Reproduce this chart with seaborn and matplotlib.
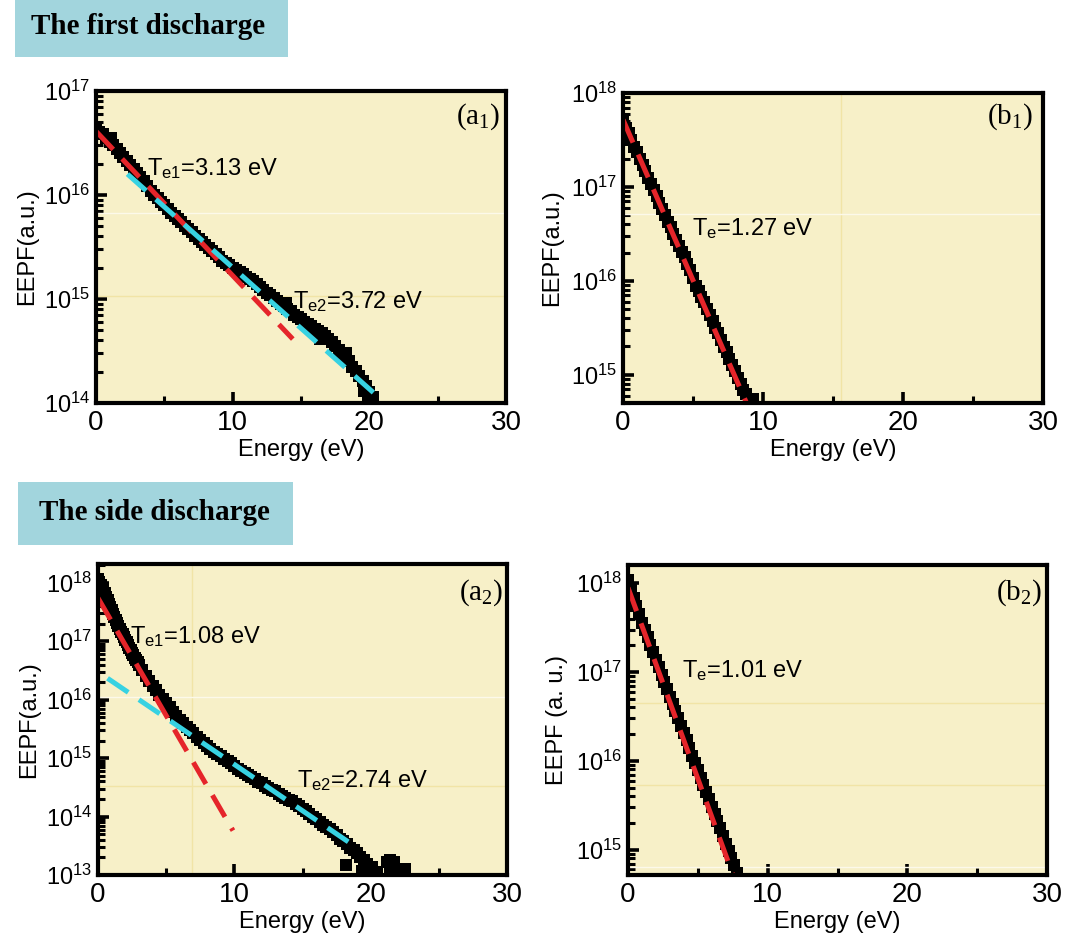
import numpy as np
import pandas as pd
import matplotlib
matplotlib.use("Agg")
import matplotlib.pyplot as plt
import seaborn as sns
from matplotlib.patches import Rectangle
from matplotlib.ticker import LogLocator, NullFormatter, MultipleLocator, LogFormatterMathtext

# ---------------- measured EEPF (log10 of a.u.) ----------------
# (a1) first discharge, position a
a1_energy = [0.0, 0.25, 0.5, 0.75, 1.0, 1.25, 1.5, 1.75, 2.0, 2.25,
             2.5, 2.75, 3.0, 3.25, 3.5, 3.75, 4.0, 4.25, 4.5, 4.75,
             5.0, 5.25, 5.5, 5.75, 6.0, 6.25, 6.5, 6.75, 7.0, 7.25,
             7.5, 7.75, 8.0, 8.25, 8.5, 8.75, 9.0, 9.25, 9.5, 9.75,
             10.0, 10.25, 10.5, 10.75, 11.0, 11.25, 11.5, 11.75, 12.0, 12.25,
             12.5, 12.75, 13.0, 13.25, 13.5, 13.75, 14.0, 14.25, 14.5, 14.75,
             15.0, 15.25, 15.5, 15.75, 16.0, 16.25, 16.5, 16.75, 17.0, 17.25,
             17.5, 17.75, 18.0, 18.25, 18.5, 18.75, 19.0, 19.25, 19.5, 19.75,
             20.0, 20.25,
             1.1, 13.9, 16.4, 18.3, 19.6, 19.9, 20.1]
a1_log_eepf = [16.63, 16.61, 16.59, 16.55, 16.51, 16.48, 16.44, 16.40, 16.37, 16.33,
               16.29, 16.25, 16.21, 16.17, 16.13, 16.09, 16.04, 16.00, 15.97, 15.93,
               15.90, 15.87, 15.83, 15.80, 15.77, 15.74, 15.70, 15.67, 15.64, 15.61,
               15.58, 15.55, 15.52, 15.49, 15.46, 15.43, 15.40, 15.37, 15.35, 15.33,
               15.30, 15.28, 15.26, 15.24, 15.21, 15.19, 15.17, 15.14, 15.12, 15.09,
               15.06, 15.04, 15.01, 14.98, 14.95, 14.93, 14.90, 14.88, 14.85, 14.83,
               14.81, 14.78, 14.76, 14.74, 14.71, 14.69, 14.67, 14.64, 14.62, 14.59,
               14.55, 14.51, 14.48, 14.44, 14.40, 14.35, 14.31, 14.26, 14.21, 14.16,
               14.11, 14.06,
               16.55, 14.96, 14.62, 14.48, 14.12, 14.02, 14.00]

# (b1) first discharge, position b
b1_energy = [0.0, 0.2, 0.4, 0.6, 0.8, 1.0, 1.2, 1.4, 1.6, 1.8,
             2.0, 2.2, 2.4, 2.6, 2.8, 3.0, 3.2, 3.4, 3.6, 3.8,
             4.0, 4.2, 4.4, 4.6, 4.8, 5.0, 5.2, 5.4, 5.6, 5.8,
             6.0, 6.2, 6.4, 6.6, 6.8, 7.0, 7.2, 7.4, 7.6, 7.8,
             8.0, 8.2, 8.4, 8.6, 8.8, 9.0, 9.2, 9.3]
b1_log_eepf = [17.72, 17.63, 17.57, 17.50, 17.43, 17.37, 17.30, 17.23, 17.17, 17.10,
               17.03, 16.97, 16.90, 16.83, 16.77, 16.70, 16.63, 16.57, 16.50, 16.43,
               16.37, 16.31, 16.25, 16.18, 16.12, 16.03, 15.95, 15.89, 15.83, 15.77,
               15.70, 15.64, 15.57, 15.50, 15.44, 15.37, 15.30, 15.24, 15.17, 15.10,
               15.04, 14.97, 14.90, 14.84, 14.79, 14.72, 14.66, 14.74]

# (a2) side discharge, position a
a2_energy = [0.0, 0.1, 0.2, 0.3, 0.4, 0.5, 0.6, 0.7, 0.8, 0.9,
             1.0, 1.1, 1.2, 1.3, 1.4, 1.5, 1.6, 1.7, 1.8, 1.9,
             2.0, 2.1, 2.2, 2.3, 2.4, 2.5, 2.6, 2.7, 2.8, 2.9,
             3.0,
             3.25, 3.5, 3.75, 4.0, 4.25, 4.5, 4.75, 5.0, 5.25, 5.5,
             5.75, 6.0, 6.25, 6.5, 6.75, 7.0, 7.25, 7.5, 7.75, 8.0,
             8.25, 8.5, 8.75, 9.0, 9.25, 9.5, 9.75, 10.0, 10.25, 10.5,
             10.75, 11.0, 11.25, 11.5, 11.75, 12.0, 12.25, 12.5, 12.75, 13.0,
             13.25, 13.5, 13.75, 14.0, 14.25, 14.5, 14.75, 15.0, 15.25, 15.5,
             15.75, 16.0, 16.25, 16.5, 16.75, 17.0, 17.25, 17.5, 17.75, 18.0,
             18.25, 18.5, 18.75, 19.0, 19.25, 19.5, 19.75,
             18.2, 19.4, 19.6, 20.1, 20.5, 21.2, 21.4, 21.7, 21.4, 22.0, 22.5]
a2_log_eepf = [18.06, 18.01, 17.97, 17.92, 17.87, 17.82, 17.76, 17.70, 17.64, 17.59,
               17.53, 17.47, 17.42, 17.36, 17.31, 17.26, 17.21, 17.16, 17.12, 17.07,
               17.03, 16.98, 16.94, 16.89, 16.85, 16.80, 16.76, 16.72, 16.68, 16.64,
               16.60,
               16.50, 16.40, 16.32, 16.24, 16.16, 16.08, 16.01, 15.94, 15.87, 15.79,
               15.72, 15.65, 15.60, 15.54, 15.48, 15.43, 15.37, 15.31, 15.26, 15.21,
               15.16, 15.11, 15.07, 15.03, 14.99, 14.95, 14.92, 14.86, 14.81, 14.78,
               14.74, 14.71, 14.67, 14.64, 14.60, 14.57, 14.53, 14.49, 14.46, 14.43,
               14.39, 14.36, 14.32, 14.29, 14.26, 14.22, 14.18, 14.13, 14.09, 14.04,
               14.00, 13.95, 13.91, 13.86, 13.82, 13.78, 13.73, 13.68, 13.62, 13.58,
               13.53, 13.47, 13.42, 13.37, 13.31, 13.25, 13.19,
               13.17, 13.06, 13.17, 13.14, 13.05, 13.23, 13.25, 13.23, 13.10, 13.05, 13.11]

# (b2) side discharge, position b
b2_energy = [0.0, 0.2, 0.4, 0.6, 0.8, 1.0, 1.2, 1.4, 1.6, 1.8,
             2.0, 2.2, 2.4, 2.6, 2.8, 3.0, 3.2, 3.4, 3.6, 3.8,
             4.0, 4.2, 4.4, 4.6, 4.8, 5.0, 5.2, 5.4, 5.6, 5.8,
             6.0, 6.2, 6.4, 6.6, 6.8, 7.0, 7.2, 7.4, 7.6, 7.8]
b2_log_eepf = [18.03, 17.92, 17.83, 17.74, 17.65, 17.55, 17.47, 17.39, 17.30, 17.22,
               17.14, 17.06, 16.97, 16.89, 16.81, 16.72, 16.64, 16.56, 16.48, 16.39,
               16.31, 16.23, 16.15, 16.06, 15.98, 15.90, 15.81, 15.73, 15.65, 15.57,
               15.48, 15.40, 15.32, 15.24, 15.15, 15.07, 14.99, 14.91, 14.83, 14.74]

# ---------------- Maxwellian fits: A * exp(-E / Te) ----------------
# (Te [eV], amplitude, E_start, E_end, colour key)
a1_fits = [(3.13, 4.1e16, 0.0, 14.4, "red"), (3.72, 2.95e16, 2.3, 20.6, "cyan")]
b1_fits = [(1.27, 5.2e17, 0.0, 9.3, "red")]
a2_fits = [(1.08, 5.5e17, 0.0, 9.9, "red"), (2.74, 3.0e16, 0.7, 18.5, "cyan")]
b2_fits = [(1.01, 8.9e17, 0.0, 7.9, "red")]

# Temperature annotations: (text, energy, EEPF at baseline)
a1_notes = [("T$_{e1}$=3.13 eV", 3.7, 10**16.19), ("T$_{e2}$=3.72 eV", 14.4, 10**14.91)]
b1_notes = [("T$_{e}$=1.27 eV", 4.9, 10**16.49)]
a2_notes = [("T$_{e1}$=1.08 eV", 2.35, 10**16.97), ("T$_{e2}$=2.74 eV", 14.6, 10**14.51)]
b2_notes = [("T$_{e}$=1.01 eV", 3.9, 10**16.94)]

panel_tags = ["(a$_1$)", "(b$_1$)", "(a$_2$)", "(b$_2$)"]
y_labels = ["EEPF(a.u.)", "EEPF(a.u.)", "EEPF(a.u.)", "EEPF (a. u.)"]
y_limits = [(1e14, 1e17), (5e14, 1e18), (1e13, 2.1e18), (5.2e14, 1.6e18)]
section_titles = ["The first discharge", "The side discharge"]

# faint rules across the plotting area: (orientation, position, colour)
RULE_Y = "#f1e4a6"
RULE_W = "#fcf9ea"
a1_rules = [("h", 10**15.83, RULE_W), ("h", 10**15.03, RULE_Y)]
b1_rules = [("v", 15.6, RULE_Y), ("h", 10**16.71, RULE_W)]
a2_rules = [("v", 6.9, RULE_Y), ("h", 10**16.05, RULE_W), ("h", 10**14.52, RULE_Y)]
b2_rules = [("h", 10**16.65, RULE_Y), ("h", 10**15.73, RULE_Y), ("h", 10**14.81, RULE_W)]

FIT_COLORS = {"red": "#e5252a", "cyan": "#37d2e2"}
PANEL_BG = "#f7f0c8"
BANNER_BG = "#a2d5dd"

sns.set_theme(style="ticks")
plt.rcParams.update({
    "font.family": ["Liberation Sans", "DejaVu Sans"],
    "font.size": 17,
    "mathtext.default": "regular",
    "axes.linewidth": 3,
    "axes.edgecolor": "black",
    "xtick.color": "black",
    "ytick.color": "black",
    "axes.labelcolor": "black",
    "text.color": "black",
})

W, H = 1068, 942
fig = plt.figure(figsize=(W / 100, H / 100), dpi=100)
fig.patch.set_facecolor("white")

# axes rectangles in pixels: left, top, right, bottom
boxes_px = [(96, 91, 506, 403), (623, 93, 1043, 403),
            (98, 564, 507, 875), (628, 565, 1047, 875)]


def add_axes_px(l, t, r, b):
    return fig.add_axes([l / W, 1 - b / H, (r - l) / W, (b - t) / H])


panels = [
    (a1_energy, a1_log_eepf, a1_fits, a1_notes, a1_rules, (0.985, 0.917), 4),
    (b1_energy, b1_log_eepf, b1_fits, b1_notes, b1_rules, (0.976, 0.923), 6),
    (a2_energy, a2_log_eepf, a2_fits, a2_notes, a2_rules, (0.99, 0.907), 4),
    (b2_energy, b2_log_eepf, b2_fits, b2_notes, b2_rules, (0.988, 0.91), 6),
]

for i, (energy, log_eepf, fits, notes, rules, tag_xy, ylpad) in enumerate(panels):
    ax = add_axes_px(*boxes_px[i])
    ax.set_facecolor(PANEL_BG)
    ax.set_yscale("log")

    for orient, pos, col in rules:
        if orient == "h":
            ax.axhline(pos, color=col, lw=1.0, zorder=1)
        else:
            ax.axvline(pos, color=col, lw=1.0, zorder=1)

    df = pd.DataFrame({"energy": energy, "eepf": np.power(10.0, log_eepf)})
    sns.scatterplot(data=df, x="energy", y="eepf", ax=ax, marker="s", s=68,
                    color="black", edgecolor="black", linewidth=0, zorder=3,
                    legend=False)

    for te, amp, e0, e1, ckey in fits:
        e_fit = np.linspace(e0, e1, 200)
        fit_df = pd.DataFrame({"energy": e_fit, "eepf": amp * np.exp(-e_fit / te)})
        sns.lineplot(data=fit_df, x="energy", y="eepf", ax=ax, sort=False,
                     color=FIT_COLORS[ckey], linewidth=3.6,
                     linestyle=(0, (5, 2.6)), zorder=4, legend=False)

    for txt, ex, ey in notes:
        ax.text(ex, ey, txt, ha="left", va="baseline", fontsize=17, zorder=5)

    ax.text(tag_xy[0], tag_xy[1], panel_tags[i], transform=ax.transAxes,
            ha="right", va="center", fontsize=21, family="Liberation Serif",
            zorder=5)

    ax.set_xlim(0, 30)
    ax.set_ylim(*y_limits[i])
    ax.xaxis.set_major_locator(MultipleLocator(10))
    ax.xaxis.set_minor_locator(MultipleLocator(5))
    ax.yaxis.set_major_locator(LogLocator(base=10, numticks=12))
    ax.yaxis.set_major_formatter(LogFormatterMathtext())
    ax.yaxis.set_minor_locator(LogLocator(base=10, subs=np.arange(2, 10), numticks=12))
    ax.yaxis.set_minor_formatter(NullFormatter())

    ax.tick_params(which="both", direction="in", top=False, right=False)
    ax.tick_params(which="major", length=8, width=2.6)
    ax.tick_params(axis="x", which="major", pad=5, labelsize=20)
    ax.tick_params(axis="y", which="major", pad=4, labelsize=17)
    ax.tick_params(which="minor", length=5, width=2.2)

    ax.set_xlabel("Energy (eV)", fontsize=17, labelpad=2)
    ax.set_ylabel(y_labels[i], fontsize=17, labelpad=ylpad)
    for sp in ax.spines.values():
        sp.set_linewidth(3)
        sp.set_color("black")
        sp.set_zorder(6)

# section banners
banners_px = [(15, 0, 288, 57, 148, 26), (18, 482, 293, 545, 154, 513)]
for title, (x0, y0, x1, y1, tx, ty) in zip(section_titles, banners_px):
    fig.patches.append(Rectangle((x0 / W, 1 - y1 / H), (x1 - x0) / W, (y1 - y0) / H,
                                 transform=fig.transFigure, facecolor=BANNER_BG,
                                 edgecolor="none", zorder=0))
    fig.text(tx / W, 1 - ty / H, title, ha="center", va="center",
             fontsize=21, fontweight="bold", family="Liberation Serif")

fig.savefig("out.png", dpi=100)
